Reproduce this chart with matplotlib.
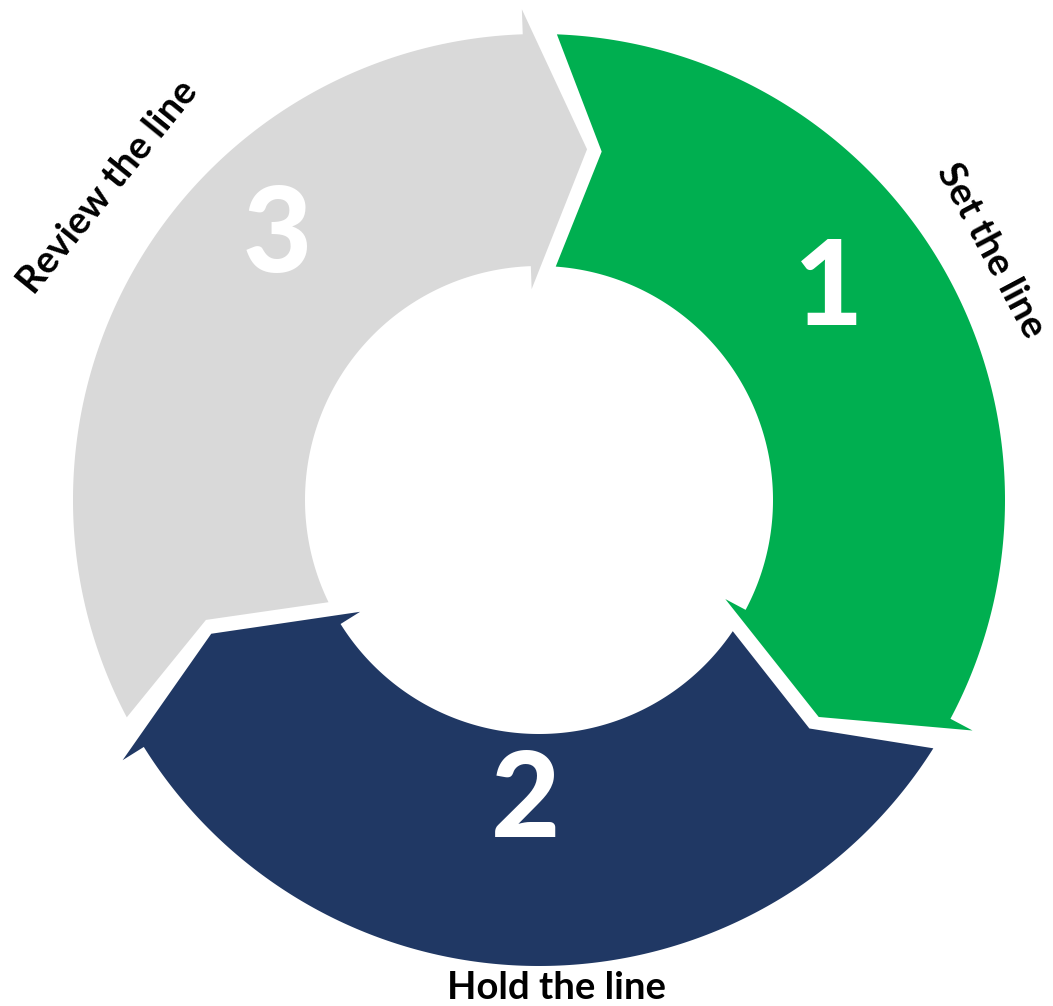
import numpy as np
import matplotlib.pyplot as plt
from matplotlib.patches import Polygon

stage_numbers = ["1", "2", "3"]
stage_labels = ["Set the line", "Hold the line", "Review the line"]
stage_colors = ["#00AF50", "#203864", "#D9D9D9"]

# ring geometry (pixels, centre of ring at origin)
R_OUT, R_IN = 466, 234
R_MID = 354
WING_OUT, WING_IN = 25, 23
HEAD_LEN = 9.8          # deg from wing to tip
TAIL_OUT, TAIL_NOTCH, TAIL_IN = 4.2, 12.2, 6.1
FIRST_HEAD = -28.0      # head angle of stage 1


def pol(r, a):
    a = np.radians(a)
    return np.array([r * np.cos(a), r * np.sin(a)])


def arrow_segment(head, tail):
    pts = []
    for a in np.linspace(tail - TAIL_OUT, head, 200):
        pts.append(pol(R_OUT, a))
    pts.append(pol(R_OUT + WING_OUT, head))
    pts.append(pol(R_MID, head - HEAD_LEN))
    pts.append(pol(R_IN - WING_IN, head))
    for a in np.linspace(head, tail - TAIL_IN, 200):
        pts.append(pol(R_IN, a))
    pts.append(pol(R_MID, tail - TAIL_NOTCH))
    return np.array(pts)


fig = plt.figure(figsize=(10.53, 10.06), dpi=100)
ax = fig.add_axes([0, 0, 1, 1])
ax.set_xlim(-539, 514)
ax.set_ylim(-506, 500)
ax.set_aspect("equal")
ax.axis("off")

n = len(stage_numbers)
for k in range(n):
    head = FIRST_HEAD - 360 / n * k
    tail = head + 360 / n
    ax.add_patch(Polygon(arrow_segment(head, tail), closed=True,
                         facecolor=stage_colors[k], edgecolor="none"))

# big step numbers: (angle, radius)
num_pos = [(35.8, 357), (267.5, 303), (135, 370)]
for (a, r), s in zip(num_pos, stage_numbers):
    x, y = pol(r, a)
    ax.text(x, y, s, color="white", fontsize=86, fontweight="black",
            family="Lato", ha="center", va="center")

# outer captions: (angle, radius, rotation)
lab_pos = [(28.9, 516, -62), (-88, 488, 0), (144, 533, 51)]
for (a, r, rot), s in zip(lab_pos, stage_labels):
    x, y = pol(r, a)
    ax.text(x, y, s, color="black", fontsize=27.5, fontweight="bold",
            family="Lato", ha="center", va="center", rotation=rot,
            rotation_mode="anchor")

fig.savefig("out.png", dpi=100)
